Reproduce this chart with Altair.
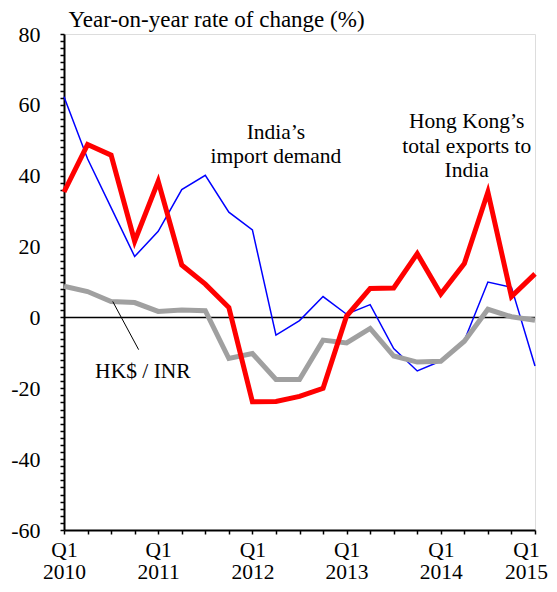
import altair as alt
import pandas as pd

quarters = ["2010 Q1", "2010 Q2", "2010 Q3", "2010 Q4",
            "2011 Q1", "2011 Q2", "2011 Q3", "2011 Q4",
            "2012 Q1", "2012 Q2", "2012 Q3", "2012 Q4",
            "2013 Q1", "2013 Q2", "2013 Q3", "2013 Q4",
            "2014 Q1", "2014 Q2", "2014 Q3", "2014 Q4",
            "2015 Q1"]
hk_exports = [35.4, 48.8, 45.8, 21.5, 38.4, 14.8, 9.4, 2.8,
              -23.8, -23.7, -22.3, -20.0, 0.4, 8.2, 8.3, 18.0,
              6.6, 15.2, 35.4, 5.9, 12.3]
india_imports = [62.3, 44.8, 31.0, 17.2, 24.3, 36.1, 40.1, 29.7,
                 24.7, -5.0, -0.9, 5.9, 0.9, 3.6, -8.8, -15.1,
                 -12.3, -6.5, 10.0, 8.5, -13.7]
hkd_inr = [8.8, 7.3, 4.5, 4.2, 1.7, 2.1, 1.9, -11.6,
           -10.2, -17.5, -17.5, -6.4, -7.2, -3.1, -10.9, -12.6,
           -12.4, -6.7, 2.3, 0.2, -0.8]

year_labels = ["2010", "2011", "2012", "2013", "2014", "2015"]

ann_text = ["India\u2019s", "import demand",
            "Hong Kong\u2019s", "total exports to", "India",
            "HK$ / INR"]
ann_x = [9.0, 9.0, 17.1, 17.1, 17.1, 3.35]
ann_y = [52.1, 45.2, 55.2, 48.1, 41.3, -15.4]

leader_x = [2.07]
leader_y = [4.5]
leader_x2 = [3.17]
leader_y2 = [-9.1]

FONT = "Liberation Serif"

rows = []
for i, q in enumerate(quarters):
    rows.append({"q": i, "label": q, "series": "india", "value": india_imports[i]})
    rows.append({"q": i, "label": q, "series": "hkd", "value": hkd_inr[i]})
    rows.append({"q": i, "label": q, "series": "hk", "value": hk_exports[i]})
df = pd.DataFrame(rows)

last_q = len(quarters) - 1
year_js = "[" + ",".join("'" + y + "'" for y in year_labels) + "]"
x_label_expr = ("datum.value % 4 == 0 ? ['Q1', " + year_js +
                "[datum.value / 4]] : ''")

x_scale = alt.Scale(domain=[0, last_q], nice=False, zero=False)
y_scale = alt.Scale(domain=[-60, 80], nice=False)

x_axis = alt.Axis(
    values=list(range(len(quarters))), tickCount=200,
    labelExpr=x_label_expr,
    labelFont=FONT, labelFontSize=21.5, labelColor="black",
    labelLineHeight=22, labelPadding=5, labelOverlap=False,
    labelFlush=False,
    labelOffset={"condition": {"test": "datum.value == %d" % last_q, "value": -9}, "value": 0},
    tickColor="black", tickWidth=1.5, tickSize=4,
    domainColor="black", domainWidth=2, grid=False, title=None,
)
y_axis = alt.Axis(
    values=list(range(-60, 81, 2)), tickCount=200,
    labelExpr="datum.value % 20 == 0 ? '' + datum.value : ''",
    labelFont=FONT, labelFontSize=22, labelColor="black",
    labelPadding=20, labelOverlap=False, labelFlush=False,
    tickColor="black", tickWidth=1.5, tickSize=4,
    domainColor="black", domainWidth=2, grid=False,
    title="Year-on-year rate of change (%)",
    titleFont=FONT, titleFontSize=23, titleFontWeight="normal",
    titleColor="black", titleAngle=0, titleAlign="left",
    titleBaseline="alphabetic", titleX=4, titleY=-8,
)

base = alt.Chart(df)

zero = alt.Chart(pd.DataFrame({"v": [0]})).mark_rule(
    color="black", strokeWidth=1.5
).encode(y=alt.Y("v:Q", scale=y_scale, axis=y_axis))

def series_line(name, color, width):
    return base.transform_filter(alt.datum.series == name).mark_line(
        color=color, strokeWidth=width, strokeJoin="miter", strokeCap="butt"
    ).encode(
        x=alt.X("q:Q", scale=x_scale, axis=x_axis),
        y=alt.Y("value:Q", scale=y_scale, axis=y_axis),
    )

blue = series_line("india", "#0000FF", 1.5)
grey = series_line("hkd", "#A0A0A0", 5)
red = series_line("hk", "#FF0000", 5)

ann_df = pd.DataFrame({"x": ann_x, "y": ann_y, "t": ann_text})
ann = alt.Chart(ann_df).mark_text(
    font=FONT, fontSize=21.5, color="black", align="center", baseline="middle"
).encode(
    x=alt.X("x:Q", scale=x_scale),
    y=alt.Y("y:Q", scale=y_scale),
    text="t:N",
)

lead_df = pd.DataFrame({"x": leader_x, "y": leader_y, "x2": leader_x2, "y2": leader_y2})
leader = alt.Chart(lead_df).mark_rule(color="black", strokeWidth=1).encode(
    x=alt.X("x:Q", scale=x_scale), y=alt.Y("y:Q", scale=y_scale),
    x2="x2:Q", y2="y2:Q",
)

chart = alt.layer(zero, blue, grey, red, leader, ann).properties(
    width=471, height=496,
    autosize=alt.AutoSizeParams(type="none"),
    padding={"left": 56, "top": 26, "right": 14, "bottom": 54},
).configure_view(
    stroke="black", strokeWidth=1.5
).configure(background="white")

chart.save("out.html", embed_options={"renderer": "svg", "actions": False})
